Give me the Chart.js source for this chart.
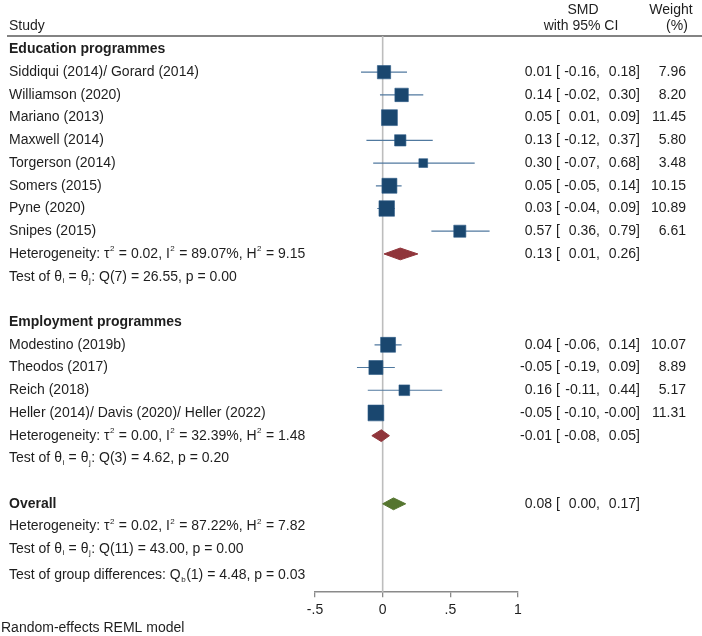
<!DOCTYPE html>
<html>
<head>
<meta charset="utf-8">
<script src="https://cdn.jsdelivr.net/npm/chart.js@4.4.1/dist/chart.umd.min.js"></script>
<style>
  html, body { margin: 0; padding: 0; background: #fff; }
  #chart { display: block; }
</style>
</head>
<body>
<canvas id="chart" width="702" height="636"></canvas>
<script>
// study level data
const studies = ["Siddiqui (2014)/ Gorard (2014)", "Williamson (2020)", "Mariano (2013)", "Maxwell (2014)",
    "Torgerson (2014)", "Somers (2015)", "Pyne (2020)", "Snipes (2015)",
    "Modestino (2019b)", "Theodos (2017)", "Reich (2018)", "Heller (2014)/ Davis (2020)/ Heller (2022)"];
const studyRows = [1, 2, 3, 4, 5, 6, 7, 8, 13, 14, 15, 16];
const smd = [0.01, 0.14, 0.05, 0.13, 0.30, 0.05, 0.03, 0.57, 0.04, -0.05, 0.16, -0.05];
const ciLow = [-0.16, -0.02, 0.01, -0.12, -0.07, -0.05, -0.04, 0.36, -0.06, -0.19, -0.11, -0.10];
const ciHigh = [0.18, 0.30, 0.09, 0.37, 0.68, 0.14, 0.09, 0.79, 0.14, 0.09, 0.44, -0.004];
const weights = [7.96, 8.20, 11.45, 5.80, 3.48, 10.15, 10.89, 6.61, 10.07, 8.89, 5.17, 11.31];

// subgroup + overall
const groupLabels = ["Education programmes", "Employment programmes", "Overall"];
const groupRows = [0, 12, 20];
const pooledRows = [9, 17, 20];
const pooledSmd = [0.13, -0.01, 0.08];
const pooledLow = [0.01, -0.08, 0.00];
const pooledHigh = [0.26, 0.05, 0.17];
const pooledColors = ["#90353b", "#90353b", "#55752f"];
const tau2 = [0.02, 0.00, 0.02];
const iSq = [89.07, 32.39, 87.22];
const hSq = [9.15, 1.48, 7.82];
const hetRows = [9, 17, 21];
const qDf = [7, 3, 11];
const qStat = [26.55, 4.62, 43.00];
const qP = [0.00, 0.20, 0.00];
const testRows = [10, 18, 22];
const groupDiff = { row: 23.15, df: 1, q: 4.48, p: 0.03 };

const xTicks = [-0.5, 0, 0.5, 1];

const FONT = '"Liberation Sans", Arial, sans-serif';
const TXT = '#1e1e1e';
const DIAMOND_H = 0.26;

const datasets = [];

// boxes
datasets.push({
    type: 'scatter',
    order: 0,
    data: smd.map((v, i) => ({x: v, y: studyRows[i]})),
    pointStyle: 'rect',
    pointRadius: weights.map(w => 4.7 * Math.sqrt(w) / Math.SQRT2),
    pointHoverRadius: weights.map(w => 4.7 * Math.sqrt(w) / Math.SQRT2),
    backgroundColor: '#1a476f',
    borderColor: '#2b5b86',
    borderWidth: 0.6
});

// confidence intervals
smd.forEach((v, i) => {
    datasets.push({
        type: 'line',
        order: 2,
        data: [{x: ciLow[i], y: studyRows[i]}, {x: ciHigh[i], y: studyRows[i]}],
        borderColor: '#50799f',
        borderWidth: 1.2,
        pointRadius: 0,
        fill: false
    });
});

// pooled diamonds
pooledSmd.forEach((v, i) => {
    const r = pooledRows[i];
    datasets.push({
        type: 'line',
        order: 1,
        data: [{x: pooledLow[i], y: r}, {x: v, y: r - DIAMOND_H}, {x: pooledHigh[i], y: r},
            {x: v, y: r + DIAMOND_H}, {x: pooledLow[i], y: r}],
        borderColor: pooledColors[i],
        backgroundColor: pooledColors[i],
        borderWidth: 1,
        pointRadius: 0,
        tension: 0,
        fill: 'shape'
    });
});

function fmt(v) { return v.toFixed(2); }

function drawRich(ctx, parts, x, y, bold) {
    const base = (bold ? 'bold ' : '') + '14px ' + FONT;
    ctx.textAlign = 'left';
    ctx.textBaseline = 'middle';
    parts.forEach(p => {
        if (typeof p === 'string') {
            ctx.font = base;
            ctx.fillText(p, x, y);
            x += ctx.measureText(p).width;
        } else {
            ctx.font = '8px ' + FONT;
            const dy = p[1] === 'sup' ? -5 : 4;
            ctx.fillText(p[0], x + 0.5, y + dy);
            x += ctx.measureText(p[0]).width + 1;
        }
    });
}

const forestText = {
    id: 'forestText',
    beforeDatasetsDraw(chart) {
        const {ctx, chartArea, scales: {x}} = chart;
        ctx.save();
        // header rule
        ctx.strokeStyle = '#5a5a5a';
        ctx.lineWidth = 1.5;
        ctx.beginPath();
        ctx.moveTo(7, chartArea.top);
        ctx.lineTo(702, chartArea.top);
        ctx.stroke();
        // line of no effect
        const x0 = x.getPixelForValue(0);
        ctx.strokeStyle = '#bdbdbd';
        ctx.lineWidth = 1.6;
        ctx.beginPath();
        ctx.moveTo(x0, chartArea.top);
        ctx.lineTo(x0, chartArea.bottom);
        ctx.stroke();
        ctx.restore();
    },
    afterDraw(chart) {
        const {ctx, scales: {y}} = chart;
        ctx.save();
        ctx.fillStyle = TXT;
        ctx.font = '14px ' + FONT;
        ctx.textBaseline = 'middle';

        // column headers
        ctx.textAlign = 'left';
        ctx.fillText('Study', 9, 26);
        ctx.textAlign = 'center';
        ctx.fillText('SMD', 583, 10);
        ctx.fillText('with 95% CI', 581, 26);
        ctx.fillText('Weight', 671, 10);
        ctx.fillText('(%)', 677, 26);

        const ciText = (r, est, lo, hi) => {
            const py = y.getPixelForValue(r);
            ctx.font = '14px ' + FONT;
            ctx.textAlign = 'right';
            ctx.fillText(fmt(est), 552, py);
            ctx.textAlign = 'left';
            ctx.fillText('[', 556, py);
            ctx.textAlign = 'right';
            ctx.fillText(fmt(lo) + ',', 600, py);
            ctx.fillText(fmt(hi) + ']', 640, py);
        };

        studies.forEach((s, i) => {
            const py = y.getPixelForValue(studyRows[i]);
            ctx.font = '14px ' + FONT;
            ctx.textAlign = 'left';
            ctx.fillText(s, 9, py);
            ciText(studyRows[i], smd[i], ciLow[i], ciHigh[i]);
            ctx.textAlign = 'right';
            ctx.fillText(fmt(weights[i]), 686, py);
        });

        groupLabels.forEach((g, i) => {
            drawRich(ctx, [g], 9, y.getPixelForValue(groupRows[i]), true);
        });

        pooledSmd.forEach((v, i) => {
            ciText(pooledRows[i], v, pooledLow[i], pooledHigh[i]);
            drawRich(ctx, ['Heterogeneity: \u03c4', ['2', 'sup'], ' = ' + fmt(tau2[i]) + ', I', ['2', 'sup'],
                ' = ' + fmt(iSq[i]) + '%, H', ['2', 'sup'], ' = ' + fmt(hSq[i])], 9, y.getPixelForValue(hetRows[i]));
            drawRich(ctx, ['Test of \u03b8', ['i', 'sub'], ' = \u03b8', ['j', 'sub'],
                ': Q(' + qDf[i] + ') = ' + fmt(qStat[i]) + ', p = ' + fmt(qP[i])], 9, y.getPixelForValue(testRows[i]));
        });

        drawRich(ctx, ['Test of group differences: Q', ['b', 'sub'],
            '(' + groupDiff.df + ') = ' + fmt(groupDiff.q) + ', p = ' + fmt(groupDiff.p)], 9, y.getPixelForValue(groupDiff.row));

        ctx.font = '14px ' + FONT;
        ctx.textAlign = 'left';
        ctx.fillText('Random-effects REML model', 1, 628);
        ctx.restore();
    }
};

new Chart(document.getElementById('chart'), {
    type: 'scatter',
    data: {datasets: datasets},
    options: {
        responsive: false,
        animation: false,
        devicePixelRatio: 1,
        layout: {padding: {left: 315, right: 184, top: 36, bottom: 12}},
        plugins: {legend: {display: false}, tooltip: {enabled: false}},
        scales: {
            x: {
                type: 'linear',
                min: -0.5,
                max: 1,
                afterBuildTicks: axis => { axis.ticks = xTicks.map(v => ({value: v})); },
                ticks: {
                    color: TXT,
                    padding: 5,
                    font: {family: FONT, size: 14},
                    maxRotation: 0,
                    callback: v => v === 0 ? '0' : (v < 0 ? '-' : '') + String(Math.abs(v)).replace(/^0/, '')
                },
                grid: {drawOnChartArea: false, drawTicks: true, tickLength: 5, color: '#8a8a8a', lineWidth: 1.3},
                border: {display: true, color: '#8a8a8a', width: 1.5}
            },
            y: {
                type: 'linear',
                display: false,
                reverse: true,
                min: -0.593,
                max: 23.89
            }
        }
    },
    plugins: [forestText]
});
</script>
</body>
</html>
